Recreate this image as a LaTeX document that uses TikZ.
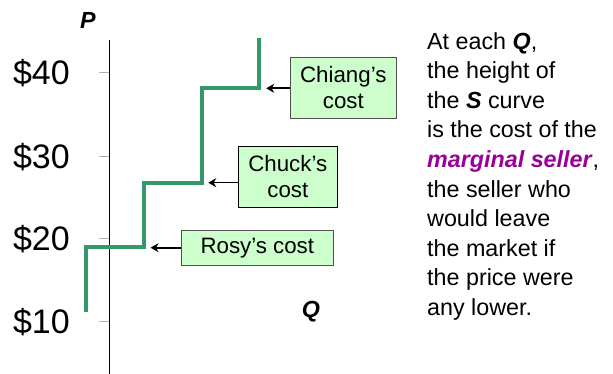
\documentclass[tikz,border=0pt]{standalone}
\usepackage{fontspec}
\setmainfont{Liberation Sans}
\usetikzlibrary{arrows.meta}
\definecolor{stepgreen}{HTML}{339966}
\definecolor{boxfill}{HTML}{CCFFCC}
\definecolor{boxgray}{HTML}{505050}
\definecolor{margpurple}{HTML}{990099}
\begin{document}
\begin{tikzpicture}[x=1pt,y=-1pt,
  box/.style={draw=boxgray, fill=boxfill, line width=0.9pt, inner sep=0pt, align=center,
              font=\fontsize{22.3}{26}\selectfont},
  curve/.style={draw=stepgreen, line width=4pt},
  tickmark/.style={draw=gray!60, line width=0.8pt},
  arr/.style={-{Stealth[length=8pt,width=9pt]}, line width=1.6pt},
  price/.style={anchor=base east, inner sep=0pt, font=\fontsize{34}{34}\selectfont},
  axlabel/.style={inner sep=0pt, font=\fontsize{23.3}{23.3}\selectfont\bfseries\itshape}]
\useasboundingbox (0,0) rectangle (613,374);
% axis
\coordinate (axtop) at (109.3,40);
\coordinate (axbot) at (109.3,374);
\draw[line width=0.9pt] (axtop) -- (axbot);
% ticks and price labels
\foreach \y/\lab/\nm in {72.7/\$40/p40, 156/\$30/p30, 238.3/\$20/p20, 321/\$10/p10}{
  \draw[tickmark] (99.3,\y) -- (109.3,\y);
  \node[price] (\nm) at (70,\y+12.3) {\lab};
}
\node[axlabel] (P) at (88,20) {P};
\node[axlabel] (Q) at (311,311.7) {Q};
% supply step curve
\coordinate (s0) at (86,311.7);
\coordinate (s1) at (86,247);
\coordinate (s2) at (144.3,247);
\coordinate (s3) at (144.3,182.7);
\coordinate (s4) at (202,182.7);
\coordinate (s5) at (202,88.3);
\coordinate (s6) at (258.7,88.3);
\coordinate (s7) at (258.7,38.3);
\draw[curve] (s0) -- (s1) -- (s2) -- (s3) -- (s4) -- (s5) -- (s6) -- (s7);
% boxes
\node[box, minimum width=105.3pt, minimum height=60.7pt] (chiang) at (343.3,87.7) {Chiang’s\\cost};
\node[box, draw=black, minimum width=99pt, minimum height=61.3pt] (chuck) at (287.8,176.7) {Chuck’s\\cost};
\node[box, minimum width=152pt, minimum height=34.7pt] (rosy) at (257.3,247.7) {Rosy’s cost};
\draw[arr] (chiang.west |- s6) -- ++(-24,0);
\draw[arr] (chuck.west |- s4) -- ++(-29.6,0);
\draw[arr] (rosy.west) -- ++(-30.3,0);
% explanation
\node[anchor=north west, inner sep=0pt, align=left, font=\fontsize{23.3}{29.6}\selectfont] (expl) at (427,32) {%
At each \textbf{\textit{Q}},\\
the height of\\
the \textbf{\textit{S}} curve\\
is the cost of the\\
\textcolor{margpurple}{\textbf{\textit{marginal seller}}},\\
the seller who\\
would leave\\
the market if\\
the price were\\
any lower.};
\end{tikzpicture}
\end{document}
